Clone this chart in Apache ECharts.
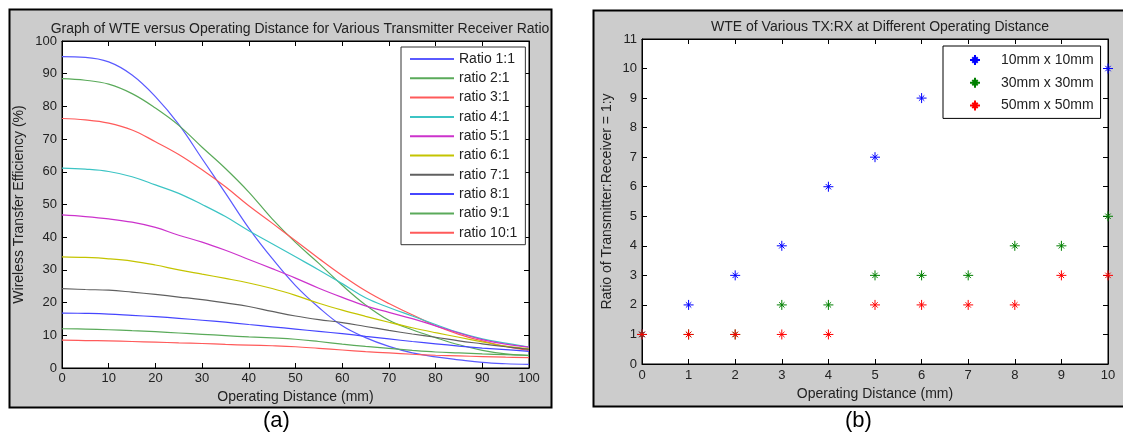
<!DOCTYPE html>
<html><head><meta charset="utf-8">
<script src="https://cdn.jsdelivr.net/npm/echarts@6/dist/echarts.min.js"></script>
<style>html,body{margin:0;padding:0;background:#fff;}#c{width:1123px;height:439px;}</style>
</head><body><div id="c"></div>
<script>
// ---------- Chart (a) data ----------
const distance = [0,5,10,15,20,25,30,35,40,45,50,55,60,65,70,75,80,85,90,95,100];
const ratio1  = [95.2,95,93.6,89.6,83,74.5,64,53.5,42.8,33.5,25.2,18.5,12.9,9.3,6.6,4.6,3.4,2.5,1.7,1.3,1.1];
const ratio2  = [88.5,88,86.8,83.9,79.5,74.2,67.5,61,53.8,45.6,38.4,32,25.3,19.3,14.6,11.7,9.3,7.1,5.4,4.3,3.8];
const ratio3  = [76.3,75.9,74.9,72.8,69.2,65.3,60.6,55.4,49.6,44.3,38.9,33.5,28.3,23.6,19.7,16.3,12.9,10.3,8.3,6.6,5.4];
const ratio4  = [61.1,60.8,60.1,58.5,56,53.4,50,46.3,42,38,34,30,25.8,21.5,18.5,15.9,13.3,10.8,8.9,7.6,6.4];
const ratio5  = [46.8,46.3,45.6,44.6,43,40.6,38.5,36,33.2,30.4,27.5,24.4,21.6,19,17,15.1,12.9,10.7,8.7,7.3,6.4];
const ratio6  = [34,33.8,33.4,32.7,31.5,30,28.7,27.4,26,24.3,22.2,19.8,17.7,15.8,14,12.3,10.8,9.4,8,6.7,5.9];
const ratio7  = [24.3,24,23.8,23.2,22.5,21.7,20.9,19.9,18.8,17.3,15.9,14.8,13.9,12.7,11.5,10.4,9.4,8.3,7.4,6.5,5.7];
const ratio8  = [16.8,16.7,16.5,16.1,15.7,15.2,14.6,14,13.3,12.6,11.9,11.2,10.5,9.7,8.9,8.1,7.4,6.7,6.1,5.6,5.1];
const ratio9  = [12,11.9,11.7,11.4,11.1,10.7,10.3,9.9,9.5,9.2,8.8,8.1,7.3,6.6,6,5.4,4.9,4.6,4.3,4.1,3.9];
const ratio10 = [8.5,8.4,8.3,8.1,7.9,7.7,7.5,7.2,7,6.8,6.5,6,5.5,5,4.6,4.2,3.9,3.7,3.5,3.3,3.2];
const ratioNames = ['Ratio 1:1','ratio 2:1','ratio 3:1','ratio 4:1','ratio 5:1','ratio 6:1','ratio 7:1','ratio 8:1','ratio 9:1','ratio 10:1'];
const ratioColors = ['#5a5aff','#5aaa5a','#ff5a5a','#3cc4c4','#cc33cc','#c4c400','#606060','#4646ff','#5aaa5a','#ff5a5a'];

// ---------- Chart (b) data ----------
const distanceB = [0,1,2,3,4,5,6,7,8,9,10];
const size10 = [1,2,3,4,6,7,9,null,null,null,10];
const size30 = [1,1,1,2,2,3,3,3,4,4,5];
const size50 = [1,1,1,1,1,2,2,2,2,3,3];
const sizeNames = ['10mm x 10mm','30mm x 30mm','50mm x 50mm'];
const sizeColors = ['#0000ff','#008000','#ff0000'];

const FONT = '"Liberation Sans", Arial, sans-serif';
const TXT = '#222';
const ratios = [ratio1,ratio2,ratio3,ratio4,ratio5,ratio6,ratio7,ratio8,ratio9,ratio10];
const sizes = [size10,size30,size50];
const star = 'path://M5,0L5,10M0,5L10,5M2.3,2.3L7.7,7.7M7.7,2.3L2.3,7.7';

function pairs(xs, ys){ const out=[]; xs.forEach((x,i)=>{ if(ys[i]!=null) out.push([x,ys[i]]); }); return out; }

function axisCommon(extra){
  return Object.assign({
    type:'value',
    axisLine:{show:true,onZero:false,lineStyle:{color:'#000',width:1}},
    axisTick:{show:true,inside:true,length:5,lineStyle:{color:'#000'}},
    splitLine:{show:false},
    axisLabel:{color:TXT,fontFamily:FONT,fontSize:13},
    nameTextStyle:{color:TXT,fontFamily:FONT,fontSize:14}
  }, extra);
}

const chart = echarts.init(document.getElementById('c'), null, {renderer:'canvas'});
const series = [];
ratios.forEach((r,i)=>{
  series.push({type:'line', name:ratioNames[i], xAxisIndex:0, yAxisIndex:0, data:pairs(distance,r),
    symbol:'none', smooth:0.4, lineStyle:{color:ratioColors[i],width:1.2}, itemStyle:{color:ratioColors[i]}, animation:false});
});
sizes.forEach((s,i)=>{
  series.push({type:'scatter', name:sizeNames[i], xAxisIndex:2, yAxisIndex:2, data:pairs(distanceB,s),
    symbol:star, symbolSize:10, clip:false,
    itemStyle:{color:'transparent',borderColor:sizeColors[i],borderWidth:1,opacity:1}, animation:false});
});

chart.setOption({
  animation:false,
  backgroundColor:'#fff',
  textStyle:{fontFamily:FONT},
  title:[
    {text:'Graph of WTE versus Operating Distance for Various Transmitter Receiver Ratio', left:295, top:17, textAlign:'center',
      textStyle:{fontFamily:FONT,fontSize:14,fontWeight:'normal',color:TXT}},
    {text:'WTE of Various TX:RX at Different Operating Distance', left:875, top:15, textAlign:'center',
      textStyle:{fontFamily:FONT,fontSize:14,fontWeight:'normal',color:TXT}}
  ],
  graphic:[
    {type:'rect', z:-10, shape:{x:9.5,y:9.5,width:542,height:398}, style:{fill:'#cccccc',stroke:'#000',lineWidth:2}},
    {type:'rect', z:-10, shape:{x:593.5,y:10.5,width:600,height:396}, style:{fill:'#cccccc',stroke:'#000',lineWidth:2}},
    {type:'text', z:10, left:263, top:410, style:{text:'(a)',fontFamily:FONT,fontSize:22,fill:'#000'}},
    {type:'text', z:10, left:845, top:410, style:{text:'(b)',fontFamily:FONT,fontSize:22,fill:'#000'}}
  ],
  grid:[
    {left:62, top:41, width:467, height:327, show:true, backgroundColor:'#fff', borderColor:'#000', borderWidth:1},
    {left:642, top:39, width:466, height:325, show:true, backgroundColor:'#fff', borderColor:'#000', borderWidth:1}
  ],
  xAxis:[
    axisCommon({gridIndex:0, min:0, max:100, interval:10, position:'bottom', name:'Operating Distance (mm)', nameLocation:'middle', nameGap:19,
      axisLabel:{color:TXT,fontFamily:FONT,fontSize:13,margin:4}}),
    axisCommon({gridIndex:0, min:0, max:100, interval:10, position:'top', axisLabel:{show:false}}),
    axisCommon({gridIndex:1, min:0, max:10, interval:1, position:'bottom', name:'Operating Distance (mm)', nameLocation:'middle', nameGap:20,
      axisLabel:{color:TXT,fontFamily:FONT,fontSize:13,margin:5}}),
    axisCommon({gridIndex:1, min:0, max:10, interval:1, position:'top', axisLabel:{show:false}})
  ],
  yAxis:[
    axisCommon({gridIndex:0, min:0, max:100, interval:10, position:'left', name:'Wireless Transfer Efficiency (%)', nameLocation:'middle', nameGap:36,
      axisLabel:{color:TXT,fontFamily:FONT,fontSize:13,margin:5}}),
    axisCommon({gridIndex:0, min:0, max:100, interval:10, position:'right', axisLabel:{show:false}}),
    axisCommon({gridIndex:1, min:0, max:11, interval:1, position:'left', name:'Ratio of Transmitter:Receiver = 1:y', nameLocation:'middle', nameGap:28,
      axisLabel:{color:TXT,fontFamily:FONT,fontSize:13,margin:5}}),
    axisCommon({gridIndex:1, min:0, max:11, interval:1, position:'right', axisLabel:{show:false}})
  ],
  legend:[
    {data:ratioNames, orient:'vertical', left:401, top:47, padding:[5,8,5,8], itemWidth:44, itemHeight:14, itemGap:5.3,
      backgroundColor:'#fff', borderColor:'#333', borderWidth:1, borderRadius:0,
      itemStyle:{opacity:0}, lineStyle:{width:2},
      textStyle:{fontFamily:FONT,fontSize:14,color:TXT}, selectedMode:false},
    {data:sizeNames, orient:'vertical', left:943, top:46, padding:[7,7,6,26], itemWidth:10, itemHeight:10, itemGap:8.7,
      backgroundColor:'#fff', borderColor:'#000', borderWidth:1, borderRadius:0,
      textStyle:{fontFamily:FONT,fontSize:14,color:TXT,padding:[0,0,0,16]}, selectedMode:false}
  ],
  series: series
});
</script></body></html>
